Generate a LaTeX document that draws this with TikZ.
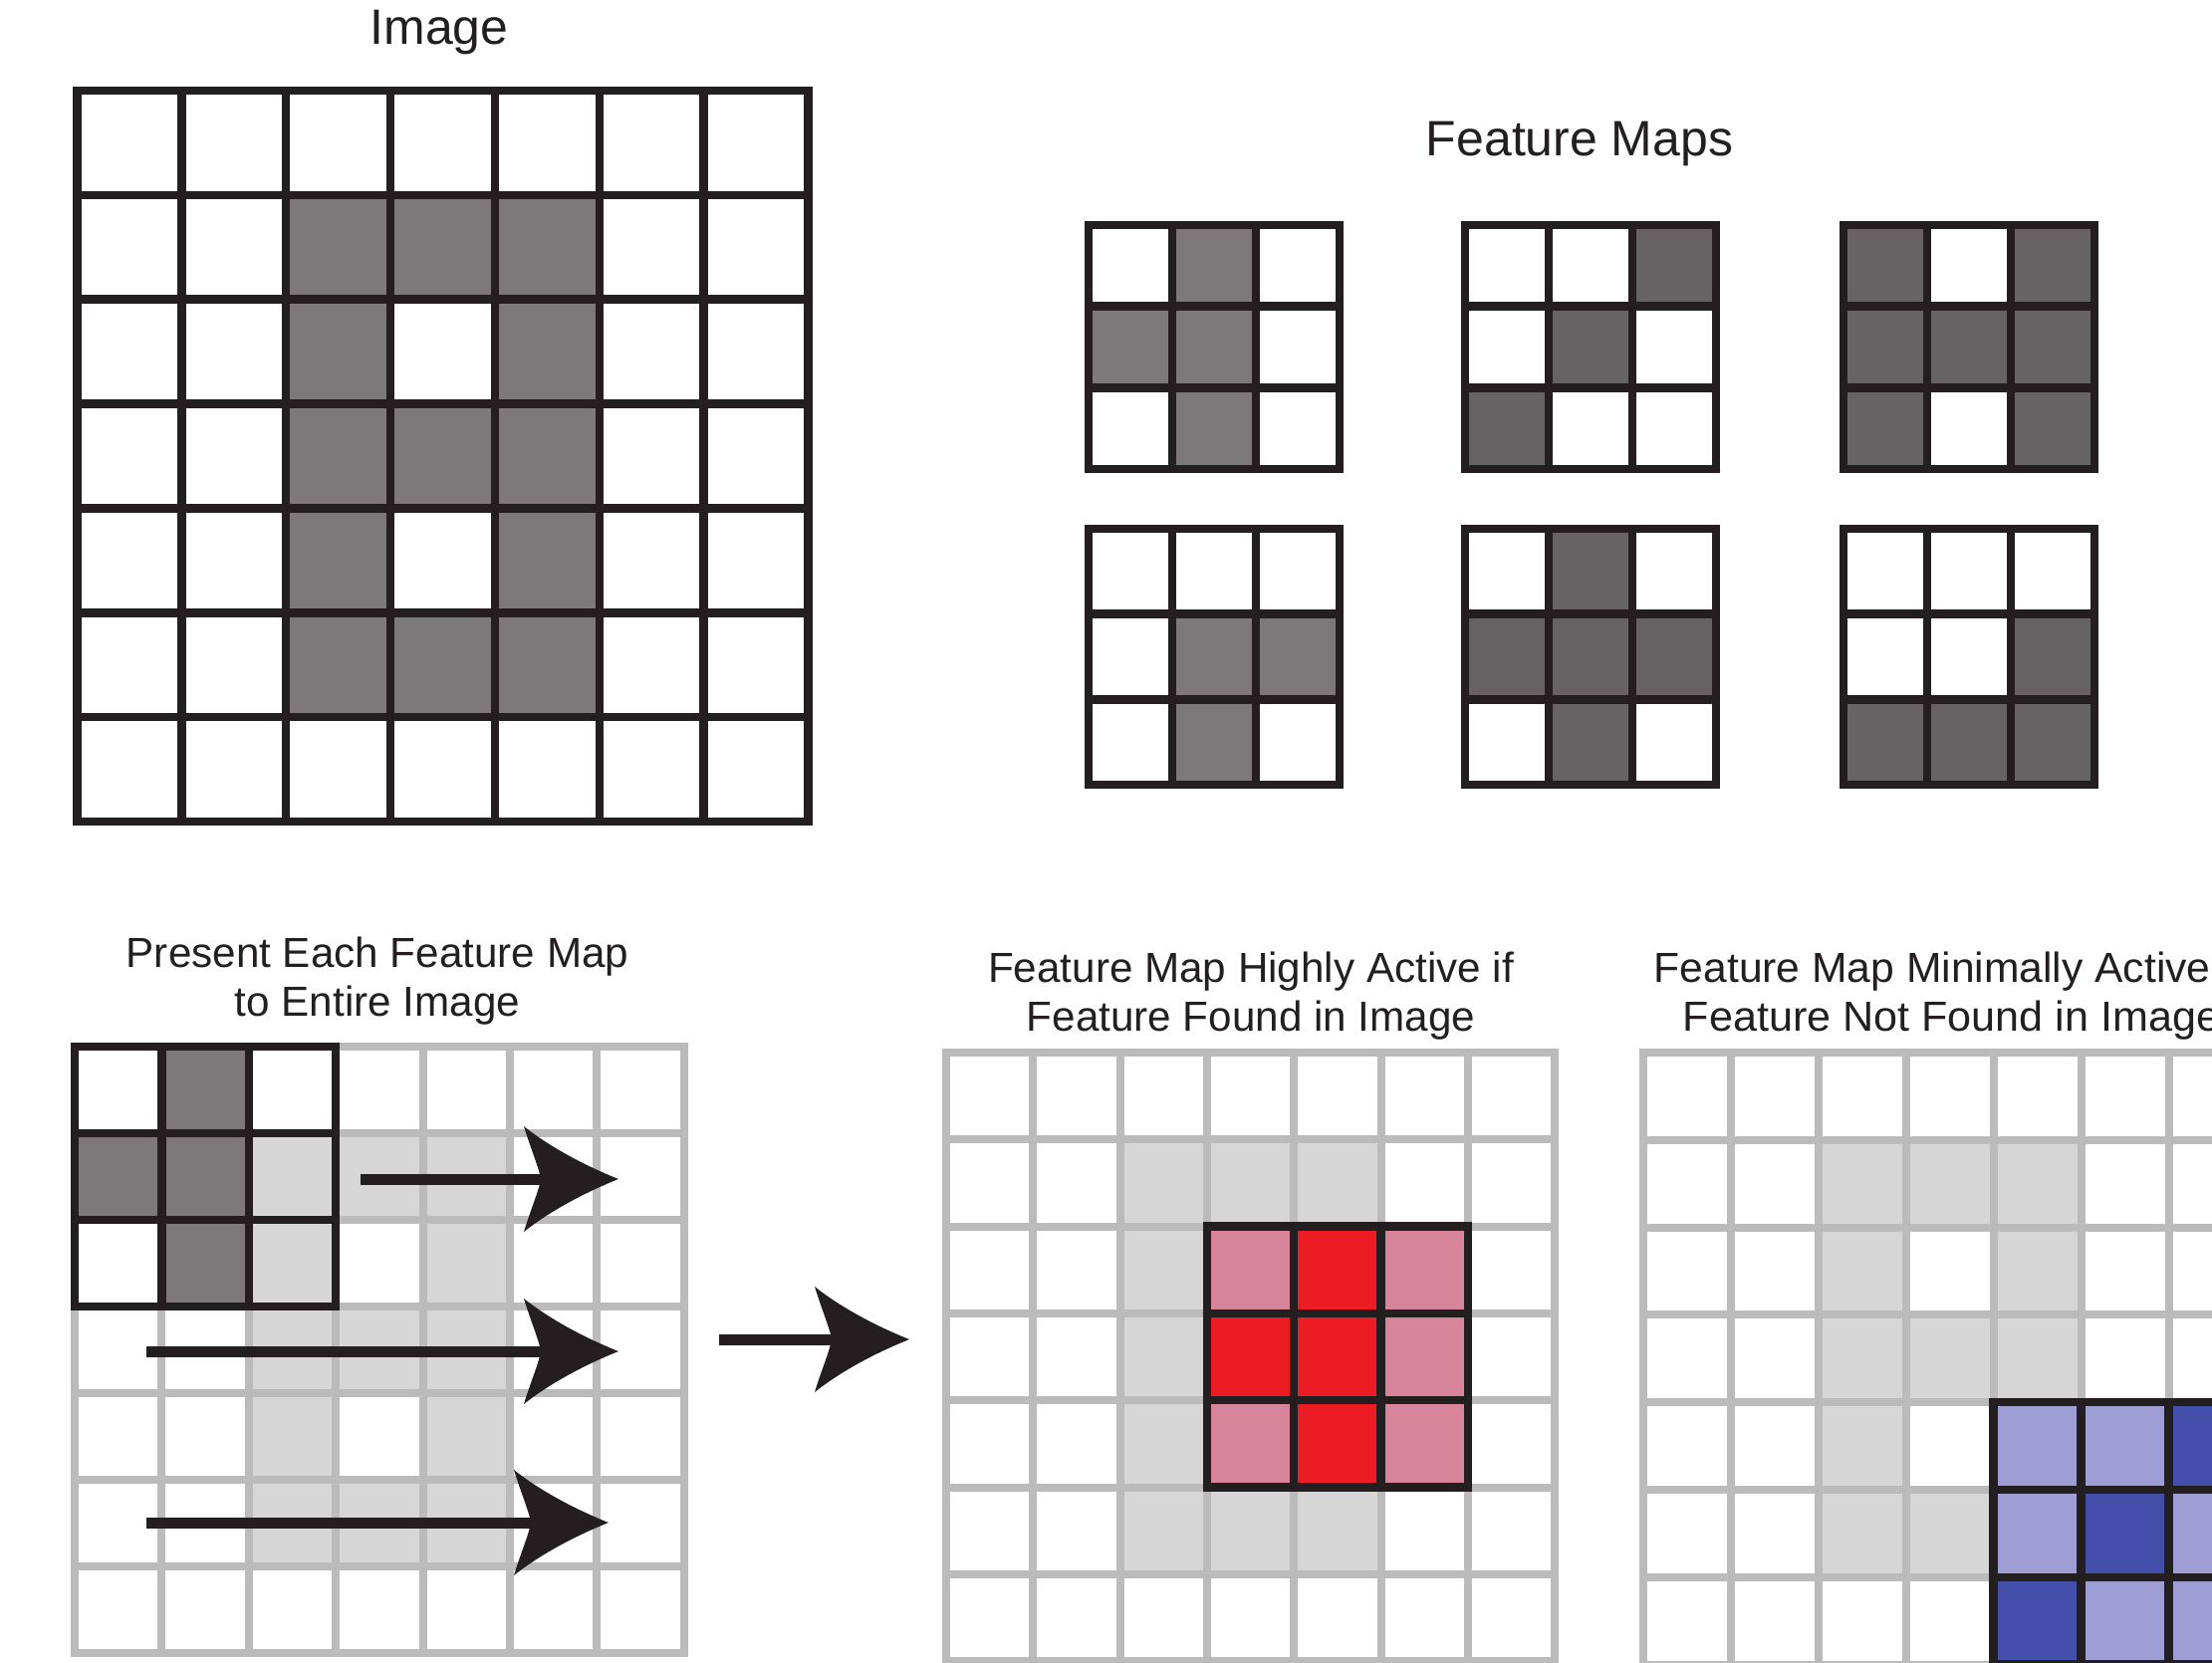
\documentclass[tikz,border=0pt]{standalone}
\usepackage{fontspec}
\setmainfont{Liberation Sans}
\definecolor{ink}{HTML}{231F20}
\definecolor{midgray}{HTML}{7B797A}
\definecolor{deepgray}{HTML}{656364}
\definecolor{lightline}{HTML}{BCBBBB}
\definecolor{lightfill}{HTML}{D6D6D6}
\definecolor{hotred}{HTML}{ED1C24}
\definecolor{pinkish}{HTML}{D8849A}
\definecolor{paleblue}{HTML}{9E9DD4}
\definecolor{deepblue}{HTML}{434FA8}
% #1 X, #2 Y, #3 W, #4 H, #5 style, #6 list row/col
\newcommand\mkcells[6]{%
  \edef\mycelllist{#6}%
  \foreach \rr/\cc in \mycelllist {\fill[#5] ({#1+\cc*#3},{#2+\rr*#4}) rectangle ++(#3,#4);}}
% #1 X, #2 Y, #3 W, #4 H, #5 n, #6 inner list, #7 style
\newcommand\mkgrid[7]{%
  \foreach \ii in {#6} {
    \draw[#7] ({#1+\ii*#3},{#2}) -- ({#1+\ii*#3},{#2+#5*#4});
    \draw[#7] ({#1},{#2+\ii*#4}) -- ({#1+#5*#3},{#2+\ii*#4});
  }
  \draw[#7] (#1,#2) rectangle ({#1+#5*#3},{#2+#5*#4});}
\tikzset{
  darkline/.style={draw=ink, line width=2.42pt},
  paleline/.style={draw=lightline, line width=2.28pt},
  titletext/.style={text=ink, font=\fontsize{14.2}{17}\selectfont, anchor=base, inner sep=0pt},
  labeltext/.style={text=ink, font=\fontsize{12}{14.5}\selectfont, anchor=base, inner sep=0pt},
  shaft/.style={draw=ink, line width=3.13pt, shorten >=20pt},
  bighead/.pic={\fill[ink] (0,0) .. controls (-35,-14) and (-70,-33) .. (-95,-53)
     .. controls (-88,-30) and (-80,-12) .. (-78,0)
     .. controls (-80,12) and (-88,30) .. (-95,53)
     .. controls (-70,33) and (-35,14) .. (0,0) -- cycle;}
}
\def\digitcells{1/2,1/3,1/4,2/2,2/4,3/2,3/3,3/4,4/2,4/4,5/2,5/3,5/4}
\begin{document}
\begin{tikzpicture}[x=0.01cm,y=-0.01cm]
\useasboundingbox (0,0) rectangle (2221,1669);
\fill[white] (0,0) rectangle (2221,1669);
\clip (0,0) rectangle (2221,1669);

% ---- Image ----
\node[titletext] (imgtitle) at (441,44) {Image};
\mkcells{77.5}{91}{104.85}{104.85}{midgray}{\digitcells}
\mkgrid{77.5}{91}{104.85}{104.85}{7}{1,...,6}{darkline}

% ---- Feature maps ----
\node[titletext] (fmtitle) at (1586,156) {Feature Maps};
\mkcells{1093}{226}{84}{81.7}{midgray}{0/1,1/0,1/1,2/1}
\mkgrid{1093}{226}{84}{81.7}{3}{1,2}{darkline}
\mkcells{1471}{226}{84}{81.7}{deepgray}{0/2,1/1,2/0}
\mkgrid{1471}{226}{84}{81.7}{3}{1,2}{darkline}
\mkcells{1851}{226}{84}{81.7}{deepgray}{0/0,0/2,1/0,1/1,1/2,2/0,2/2}
\mkgrid{1851}{226}{84}{81.7}{3}{1,2}{darkline}
\mkcells{1093}{531}{84}{85.7}{midgray}{1/1,1/2,2/1}
\mkgrid{1093}{531}{84}{85.7}{3}{1,2}{darkline}
\mkcells{1471}{531}{84}{85.7}{deepgray}{0/1,1/0,1/1,1/2,2/1}
\mkgrid{1471}{531}{84}{85.7}{3}{1,2}{darkline}
\mkcells{1851}{531}{84}{85.7}{deepgray}{1/2,2/0,2/1,2/2}
\mkgrid{1851}{531}{84}{85.7}{3}{1,2}{darkline}

% ---- Left panel ----
\node[labeltext] (lefta) at (379,971) {Present Each Feature Map};
\node[labeltext] (leftb) at (379,1020) {to Entire Image};
\mkcells{75}{1051}{87.4}{87}{lightfill}{\digitcells}
\mkgrid{75}{1051}{87.4}{87}{7}{1,...,6}{paleline}
\mkcells{75}{1051}{87.4}{87}{midgray}{0/1,1/0,1/1,2/1}
\mkgrid{75}{1051}{87.4}{87}{3}{1,2}{darkline}

\coordinate (a1s) at (362,1184); \coordinate (a1t) at (621,1184);
\coordinate (a2s) at (147,1357); \coordinate (a2t) at (621,1357);
\coordinate (a3s) at (147,1529); \coordinate (a3t) at (611,1529);
\coordinate (a4s) at (722,1345); \coordinate (a4t) at (913,1345);
\draw[shaft] (a1s) -- (a1t); \pic at (a1t) {bighead};
\draw[shaft] (a2s) -- (a2t); \pic at (a2t) {bighead};
\draw[shaft] (a3s) -- (a3t); \pic at (a3t) {bighead};
\draw[shaft] (a4s) -- (a4t); \pic at (a4t) {bighead};

% ---- Middle panel ----
\node[labeltext] (mida) at (1256,986) {Feature Map Highly Active if};
\node[labeltext] (midb) at (1256,1035) {Feature Found in Image};
\mkcells{950}{1057}{87.3}{87.3}{lightfill}{\digitcells}
\mkgrid{950}{1057}{87.3}{87.3}{7}{1,...,6}{paleline}
\mkcells{950}{1057}{87.3}{87.3}{hotred}{2/4,3/3,3/4,4/4}
\mkcells{950}{1057}{87.3}{87.3}{pinkish}{2/3,2/5,3/5,4/3,4/5}
\mkgrid{1211.9}{1231.6}{87.3}{87.3}{3}{1,2}{darkline}

% ---- Right panel ----
\node[labeltext, anchor=base west] (righta) at (1660,986) {\scalebox{1.01}[1]{Feature Map Minimally Active if}};
\node[labeltext, anchor=base west] (rightb) at (1689,1035) {\scalebox{1.022}[1]{Feature Not Found in Image}};
\mkcells{1649.5}{1057}{88}{87.8}{lightfill}{\digitcells}
\mkgrid{1649.5}{1057}{88}{87.8}{7}{1,...,6}{paleline}
\mkcells{1649.5}{1057}{88}{87.8}{deepblue}{4/6,5/5,6/4}
\mkcells{1649.5}{1057}{88}{87.8}{paleblue}{4/4,4/5,5/4,5/6,6/5,6/6}
\mkgrid{2001.5}{1408.2}{88}{87.8}{3}{1,2}{darkline}
\end{tikzpicture}
\end{document}
